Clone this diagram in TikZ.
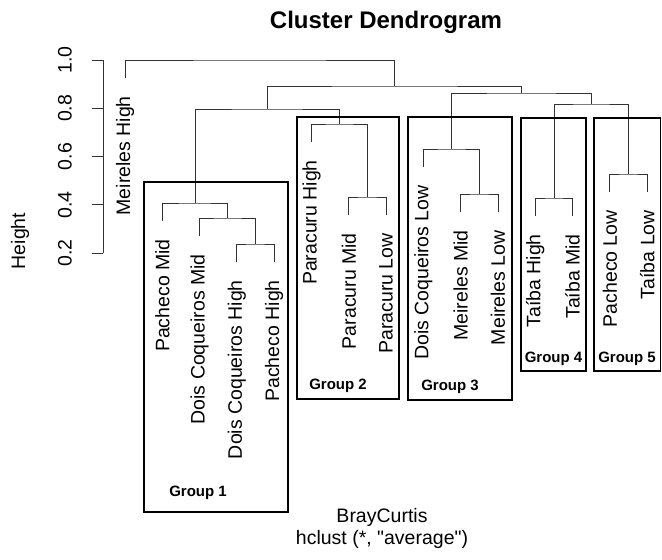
\documentclass[tikz,border=0pt]{standalone}
\usepackage{fontspec}
\setmainfont{Liberation Sans}
\newfontfamily\plainfont{Liberation Sans}
\usetikzlibrary{positioning}

\tikzset{
    branch/.style={draw=black!80, line width=0.9pt},
    leaflabel/.style={rotate=90, anchor=east, inner sep=0pt,
        font=\fontsize{19.5}{22}\selectfont},
    groupbox/.style={draw, line width=1.8pt},
    grouplabel/.style={inner sep=0pt, font=\fontsize{15}{18}\selectfont\bfseries}
}

\begin{document}
\begin{tikzpicture}[x=1pt, y=-1pt]
    \useasboundingbox (0,0) rectangle (662,560);

    % title and axis texts
    \node[font=\fontsize{24}{28}\selectfont\bfseries] (title) at (386,22) {Cluster Dendrogram};
    \node[rotate=90, font=\fontsize{19.5}{22}\selectfont] (ylab) at (20,241) {Height};
    \node[font=\fontsize{19.5}{22}\selectfont] (xlab) at (382,517) {BrayCurtis};
    \node[font=\fontsize{19.5}{22}\selectfont\plainfont] (sub) at (382,539) {hclust (*, "average")};

    % height axis
    \coordinate (atop) at (103,60);
    \coordinate (abot) at (103,253);
    \draw[branch] (atop) -- (abot);
    \foreach \h/\y in {0.2/253, 0.4/204.9, 0.6/156.6, 0.8/108.3, 1.0/60} {
        \draw[branch] (92,\y) -- (103,\y);
        \node[rotate=90, font=\fontsize{19.5}{22}\selectfont] at (65,\y) {\h};
    }

    % leaf ends
    \coordinate (mh)  at (125.0,78);
    \coordinate (pm)  at (162.3,221);
    \coordinate (dcm) at (199.6,236);
    \coordinate (dch) at (236.9,262);
    \coordinate (ph)  at (274.2,262);
    \coordinate (pch) at (311.5,142);
    \coordinate (pcm) at (348.8,215);
    \coordinate (pcl) at (386.1,215);
    \coordinate (dcl) at (423.4,167);
    \coordinate (mm)  at (460.7,212);
    \coordinate (ml)  at (498.0,212);
    \coordinate (th)  at (535.3,216);
    \coordinate (tm)  at (572.6,216);
    \coordinate (pl)  at (609.9,192);
    \coordinate (tl)  at (647.2,192);

    % merges
    \coordinate (c1)  at (255.6,244);
    \coordinate (c2)  at (227.6,218);
    \coordinate (c3)  at (195.0,203);
    \coordinate (c4)  at (367.5,197);
    \coordinate (c5)  at (339.5,124);
    \coordinate (c6)  at (267.2,109);
    \coordinate (c7)  at (479.4,194);
    \coordinate (c8)  at (451.4,149);
    \coordinate (c9)  at (554.0,198);
    \coordinate (c10) at (628.6,174);
    \coordinate (c11) at (591.3,104);
    \coordinate (c12) at (521.3,93);
    \coordinate (c13) at (394.3,86);
    \coordinate (c14) at (259.6,60);

    \draw[branch] (dch) |- (c1) -| (ph);
    \draw[branch] (dcm) |- (c2) -| (c1);
    \draw[branch] (pm) |- (c3) -| (c2);
    \draw[branch] (pcm) |- (c4) -| (pcl);
    \draw[branch] (pch) |- (c5) -| (c4);
    \draw[branch] (c3) |- (c6) -| (c5);
    \draw[branch] (mm) |- (c7) -| (ml);
    \draw[branch] (dcl) |- (c8) -| (c7);
    \draw[branch] (th) |- (c9) -| (tm);
    \draw[branch] (pl) |- (c10) -| (tl);
    \draw[branch] (c9) |- (c11) -| (c10);
    \draw[branch] (c8) |- (c12) -| (c11);
    \draw[branch] (c6) |- (c13) -| (c12);
    \draw[branch] (mh) |- (c14) -| (c13);

    % leaf labels
    \node[leaflabel] (lmh)  at (125.0,96)  {Meireles High};
    \node[leaflabel] (lpm)  at (162.3,239) {Pacheco Mid};
    \node[leaflabel] (ldcm) at (199.6,254) {Dois Coqueiros Mid};
    \node[leaflabel] (ldch) at (236.9,280) {Dois Coqueiros High};
    \node[leaflabel] (lph)  at (274.2,280) {Pacheco High};
    \node[leaflabel] (lpch) at (311.5,160) {Paracuru High};
    \node[leaflabel] (lpcm) at (348.8,233) {Paracuru Mid};
    \node[leaflabel] (lpcl) at (386.1,233) {Paracuru Low};
    \node[leaflabel] (ldcl) at (423.4,185) {Dois Coqueiros Low};
    \node[leaflabel] (lmm)  at (460.7,230) {Meireles Mid};
    \node[leaflabel] (lml)  at (498.0,230) {Meireles Low};
    \node[leaflabel] (lth)  at (535.3,234) {Taíba High};
    \node[leaflabel] (ltm)  at (572.6,234) {Taíba Mid};
    \node[leaflabel] (lpl)  at (609.9,210) {Pacheco Low};
    \node[leaflabel] (ltl)  at (647.2,210) {Taíba Low};

    % groups
    \draw[groupbox] (144,182) rectangle (288,512);
    \draw[groupbox] (297,117) rectangle (399,399);
    \draw[groupbox] (408,117) rectangle (512,400);
    \draw[groupbox] (521,118) rectangle (586,371);
    \draw[groupbox] (594,118) rectangle (660.5,371);
    \node[grouplabel] (g1) at (198,493) {Group 1};
    \node[grouplabel] (g2) at (338,386) {Group 2};
    \node[grouplabel] (g3) at (450,387) {Group 3};
    \node[grouplabel] (g4) at (553.5,359) {Group 4};
    \node[grouplabel] (g5) at (627,359) {Group 5};
\end{tikzpicture}
\end{document}
